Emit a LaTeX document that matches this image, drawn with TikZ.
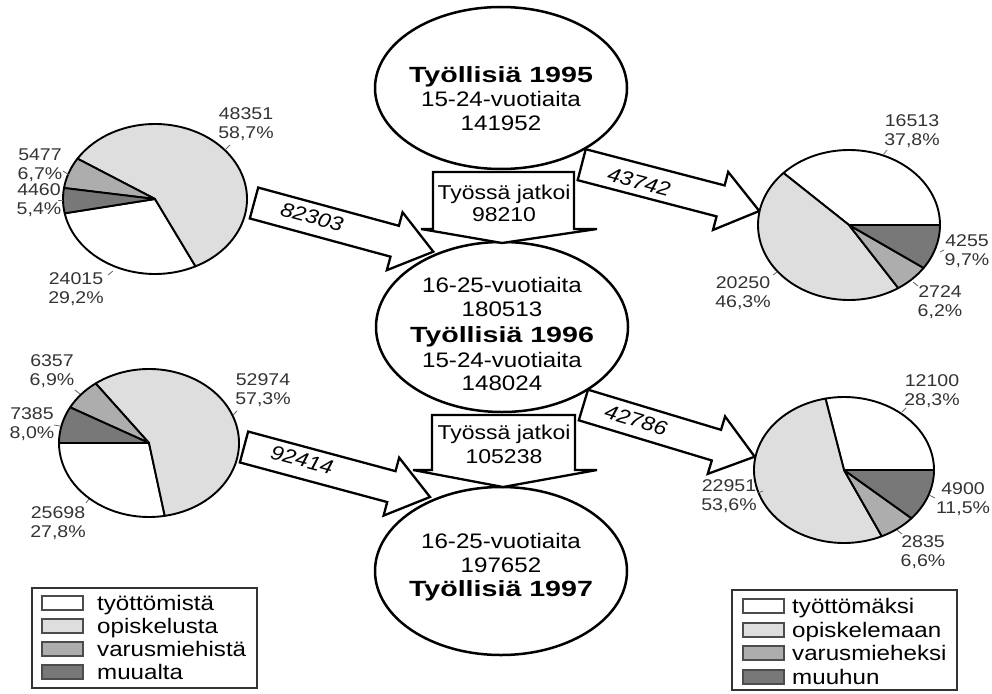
\documentclass[tikz,border=0pt]{standalone}
\usepackage{fontspec}
\setmainfont{Liberation Sans}[FakeStretch=1.15]
\newfontfamily\bw{Liberation Sans}[FakeStretch=1.3]
\usetikzlibrary{calc,shapes.geometric}
\definecolor{lg}{gray}{0.87}
\definecolor{mg}{gray}{0.68}
\definecolor{dg}{gray}{0.47}
\newcommand{\pslice}[5]{\filldraw[slice, fill=#3] (0,0) -- (#1:#4 and #5) arc[start angle=#1, end angle=#2, x radius=#4, y radius=#5] -- cycle;}
\newcommand{\blockarrow}[2]{%
  \coordinate (#1-b) at ($(#2)!40pt!(#1)$);
  \filldraw[blk] ($(#1)!16pt!90:(#2)$) -- ($(#1-b)!16pt!-90:(#1)$) -- ($(#1-b)!30pt!-90:(#1)$) -- (#2)
     -- ($(#1-b)!30pt!90:(#1)$) -- ($(#1-b)!16pt!90:(#1)$) -- ($(#1)!16pt!-90:(#2)$) -- cycle;}
\begin{document}
\begin{tikzpicture}[x=1pt,y=-1pt,
  pielbl/.style={font=\fontsize{17}{18.5}\selectfont, align=center, text=black!80, inner sep=0},
  leader/.style={draw=black!60, line width=0.8pt},
  slice/.style={draw=black, line width=1.9pt, line join=round},
  blk/.style={draw=black, fill=white, line width=2.3pt, line join=miter},
  ell/.style={ellipse, draw=black, fill=white, line width=2.5pt, inner sep=0},
  etxt/.style={font=\fontsize{21}{24}\selectfont, anchor=base, inner sep=0},
  btxt/.style={font=\fontsize{20}{22}\selectfont, anchor=base, inner sep=0},
  ebold/.style={font=\bw\bfseries\fontsize{22}{24}\selectfont, anchor=base, inner sep=0},
  atxt/.style={font=\itshape\fontsize{20}{22}\selectfont, inner sep=0},
  lgbox/.style={draw=black!80, line width=1.2pt},
  sw/.style={draw=black!70, line width=1.3pt},
  lgtxt/.style={font=\fontsize{21}{24}\selectfont, anchor=base west, inner sep=0},
]
\useasboundingbox (0,0) rectangle (992,693);

% ---- diagonal block arrows (connectors) ----
\coordinate (t1) at (254,203);   \coordinate (h1) at (433.3,251.7);
\coordinate (t2) at (581.7,164.7); \coordinate (h2) at (759.3,211);
\coordinate (t3) at (244,447);   \coordinate (h3) at (430,497);
\coordinate (t4) at (583.4,405); \coordinate (h4) at (754.7,456.7);
\blockarrow{t1}{h1}
\blockarrow{t2}{h2}
\blockarrow{t3}{h3}
\blockarrow{t4}{h4}
\node[atxt, rotate=-15.3] (l1) at (312,217) {82303};
\node[atxt, rotate=-14.6] (l2) at (639,182) {43742};
\node[atxt, rotate=-15.0] (l3) at (302,460) {92414};
\node[atxt, rotate=-16.8] (l4) at (636,420) {42786};

% ---- pies ----
\begin{scope}[shift={(155,199)}, yscale=-1]
  \coordinate (pie1) at (0,0);
  \pslice{191}{296.12}{white}{92}{75}
  \pslice{296.12}{507.44}{lg}{92}{75}
  \pslice{147.44}{171.56}{mg}{92}{75}
  \pslice{171.56}{191}{dg}{92}{75}
\end{scope}
\begin{scope}[shift={(849,225)}, yscale=-1]
  \coordinate (pie2) at (0,0);
  \pslice{0}{136.08}{white}{91}{75}
  \pslice{136.08}{302.76}{lg}{91}{75}
  \pslice{302.76}{325.08}{mg}{91}{75}
  \pslice{325.08}{360}{dg}{91}{75}
\end{scope}
\begin{scope}[shift={(149,443)}, yscale=-1]
  \coordinate (pie3) at (0,0);
  \pslice{180}{280.08}{white}{90}{74}
  \pslice{280.08}{486.36}{lg}{90}{74}
  \pslice{126.36}{151.2}{mg}{90}{74}
  \pslice{151.2}{180}{dg}{90}{74}
\end{scope}
\begin{scope}[shift={(844,470)}, yscale=-1]
  \coordinate (pie4) at (0,0);
  \pslice{0}{101.88}{white}{90}{73}
  \pslice{101.88}{294.84}{lg}{90}{73}
  \pslice{294.84}{318.6}{mg}{90}{73}
  \pslice{318.6}{360}{dg}{90}{73}
\end{scope}

% ---- pie labels ----
\node[pielbl] (a1) at (246,124) {48351\\58,7\%};
\node[pielbl] (a2) at (40,165) {5477\\6,7\%};
\node[pielbl] (a3) at (39,200) {4460\\5,4\%};
\node[pielbl] (a4) at (76,289) {24015\\29,2\%};
\draw[leader] (225,150) -- (230,145);
\draw[leader] (63,171) -- (69,175);
\draw[leader] (58,200) -- (63,200);
\draw[leader] (108,275) -- (113,271);

\node[pielbl] (b1) at (912,131) {16513\\37,8\%};
\node[pielbl] (b2) at (967,251) {4255\\9,7\%};
\node[pielbl] (b3) at (940,302) {2724\\6,2\%};
\node[pielbl] (b4) at (743,293) {20250\\46,3\%};
\draw[leader] (883,155) -- (887,150);
\draw[leader] (940,252) -- (944,250);
\draw[leader] (913,282) -- (918,286);
\draw[leader] (773,275) -- (777,272);

\node[pielbl] (c1) at (263,390) {52974\\57,3\%};
\node[pielbl] (c2) at (52,371) {6357\\6,9\%};
\node[pielbl] (c3) at (32,424) {7385\\8,0\%};
\node[pielbl] (c4) at (58,523) {25698\\27,8\%};
\draw[leader] (233,415) -- (237,411);
\draw[leader] (75,390) -- (80,394);
\draw[leader] (54,425) -- (60,426);
\draw[leader] (86,503) -- (89,499);

\node[pielbl] (d1) at (932,391) {12100\\28,3\%};
\node[pielbl] (d2) at (963,499) {4900\\11,5\%};
\node[pielbl] (d3) at (923,552) {2835\\6,6\%};
\node[pielbl] (d4) at (729,496) {22951\\53,6\%};
\draw[leader] (902,412) -- (906,408);
\draw[leader] (929,495) -- (935,498);
\draw[leader] (897,530) -- (902,534);
\draw[leader] (758,493) -- (763,491);

% ---- ellipses ----
\node[ell, minimum width=252, minimum height=162] (e1) at (501,88) {};
\node[ell, minimum width=252, minimum height=170] (e2) at (502,327) {};
\node[ell, minimum width=252, minimum height=168] (e3) at (501,571) {};

% ---- down arrows ----
\filldraw[blk] (433,172) -- (574,172) -- (574,229) -- (597,229) -- (502,243) -- (421,229) -- (433,229) -- cycle;
\filldraw[blk] (432,415) -- (575,415) -- (575,470) -- (597,470) -- (503,487) -- (413,470) -- (432,470) -- cycle;
\node[btxt] (k1) at (504,199) {Työssä jatkoi};
\node[btxt] (k2) at (504,221) {98210};
\node[btxt] (k3) at (504,439) {Työssä jatkoi};
\node[btxt] (k4) at (504,463) {105238};

% ---- ellipse texts ----
\node[ebold] (x1) at (501,82) {Työllisiä 1995};
\node[etxt] (x2) at (501,106) {15-24-vuotiaita};
\node[etxt] (x3) at (501,130) {141952};
\node[etxt] (y1) at (502,292) {16-25-vuotiaita};
\node[etxt] (y2) at (502,316) {180513};
\node[ebold] (y3) at (502,342) {Työllisiä 1996};
\node[etxt] (y4) at (502,367) {15-24-vuotiaita};
\node[etxt] (y5) at (502,390) {148024};
\node[etxt] (z1) at (501,548) {16-25-vuotiaita};
\node[etxt] (z2) at (501,572) {197652};
\node[ebold] (z3) at (501,596) {Työllisiä 1997};

% ---- legends ----
\draw[lgbox] (32,588) rectangle (257,688);
\foreach \c/\col/\t [count=\i] in {603/white/työttömistä, 626/lg/opiskelusta, 649/mg/varusmiehistä, 672/dg/muualta}{
  \filldraw[sw, fill=\col] (42,\c-7) rectangle (83,\c+7);
  \node[lgtxt] (ll\i) at (97,\c+7) {\t};
}
\draw[lgbox] (732,590) rectangle (957,690);
\foreach \c/\col/\t [count=\i] in {606/white/työttömäksi, 630/lg/opiskelemaan, 653/mg/varusmieheksi, 677/dg/muuhun}{
  \filldraw[sw, fill=\col] (743,\c-7) rectangle (784,\c+7);
  \node[lgtxt] (rl\i) at (792,\c+7) {\t};
}
\end{tikzpicture}
\end{document}
